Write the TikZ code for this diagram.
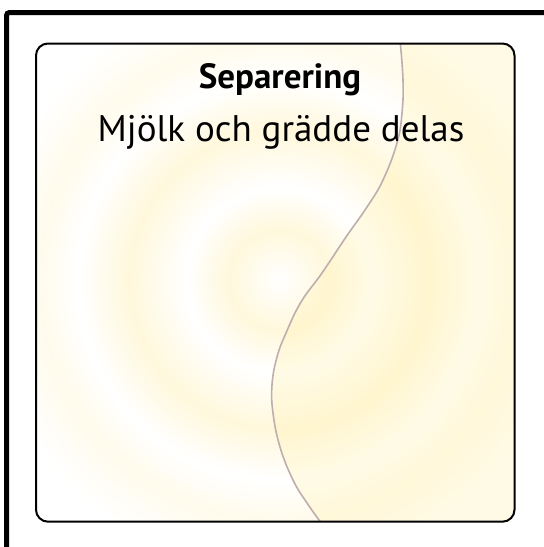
\documentclass[tikz,border=0pt]{standalone}
\usepackage{fontspec}
\setmainfont{PT Sans}
\newfontfamily\labfont{PT Sans}
\definecolor{cW}{RGB}{255,255,255}
\definecolor{cY}{RGB}{255,248,220}
\definecolor{cY2}{RGB}{255,251,236}
\definecolor{curvecol}{RGB}{190,174,174}
\definecolor{creamfill}{RGB}{255,242,180}
\pgfdeclareradialshading{rings}{\pgfpoint{0bp}{0bp}}{color(0bp)=(cW); color(3.6bp)=(cY); color(6.6bp)=(cW); color(10.7bp)=(cY); color(14.3bp)=(cW); color(17.1bp)=(cY2); color(21bp)=(cW); color(50bp)=(cW)}
\tikzset{
  outerframe/.style={draw=black, line width=5pt, rounded corners=3pt},
  innerframe/.style={draw=black, line width=2pt, rounded corners=12pt},
  sepline/.style={draw=curvecol, line width=1.6pt},
  titletext/.style={anchor=base, font=\labfont\bfseries\fontsize{35}{42}\selectfont, inner sep=0pt},
  subtext/.style={anchor=base, font=\labfont\fontsize{37}{44}\selectfont, inner sep=0pt}
}
\begin{document}
\begin{tikzpicture}[x=1pt,y=-1pt]
\useasboundingbox (0,0) rectangle (544,547);
\clip (0,0) rectangle (544,547);
\path[outerframe] (6.5,12.5) rectangle (600,600);
\begin{scope}
  \clip[rounded corners=12pt] (36,43.5) rectangle (514.5,521.7);
  \shade[shading=rings] (279,280) circle (350);
  \fill[creamfill, opacity=0.32] plot[smooth, tension=0.7] coordinates {(400,40) (403,80) (402,113) (397,143) (383,180) (367,207) (346,237) (322,273) (301,302) (286,333) (277,357) (272,385) (273,413) (280,447) (293,480) (307,503) (322,524)} -- (530,530) -- (530,30) -- cycle;
  \path[sepline] plot[smooth, tension=0.7] coordinates {(400,40) (403,80) (402,113) (397,143) (383,180) (367,207) (346,237) (322,273) (301,302) (286,333) (277,357) (272,385) (273,413) (280,447) (293,480) (307,503) (322,524)};
\end{scope}
\path[innerframe] (36,43.5) rectangle (514.5,521.7);
\node[titletext] (title) at (280,88.3) {Separering};
\node[subtext] (sub) at (281,141) {Mjölk och grädde delas};
\end{tikzpicture}
\end{document}
